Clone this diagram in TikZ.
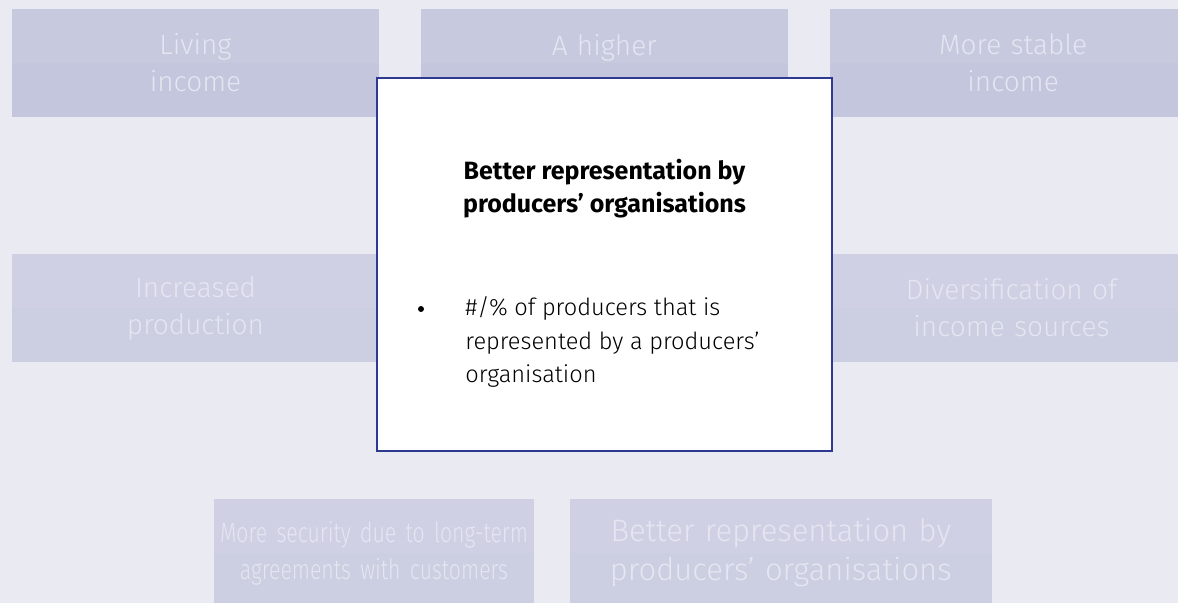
\documentclass[tikz,border=0pt]{standalone}
\usepackage{fontspec}
\setmainfont{Fira Sans}
\newfontfamily\thinfont{Fira Sans Light}
\newfontfamily\narrowthin{Fira Sans Light}[FakeStretch=0.76]
\usetikzlibrary{positioning}
\definecolor{canvas}{HTML}{EAEAF3}
\definecolor{tileup}{HTML}{C7C9DE}
\definecolor{tilelow}{HTML}{C3C6DC}
\definecolor{paleup}{HTML}{CFD0E3}
\definecolor{palelow}{HTML}{CCCEE1}
\definecolor{tiletext}{HTML}{E5E6F1}
\definecolor{frame}{HTML}{2E3A8F}
\tikzset{
  tile/.style={fill=tileup,text=tiletext,inner sep=0pt,align=center,
    text width=183.5pt,minimum height=54pt,
    font=\thinfont\fontsize{14}{18.5}\selectfont,
    path picture={\fill[tilelow] (path picture bounding box.west) rectangle (path picture bounding box.south east);}},
  paletile/.style={tile,fill=paleup,
    path picture={\fill[palelow] (path picture bounding box.west) rectangle (path picture bounding box.south east);}},
}
\begin{document}
\begin{tikzpicture}[x=0.5pt,y=-0.5pt]
\useasboundingbox (0,0) rectangle (1178,603);
\clip (0,0) rectangle (1178,603);
\fill[canvas] (0,0) rectangle (1178,603);
% top row
\node[tile] (living) at (195.5,63) {Living\\income};
\node[tile,right=20.5pt of living] (higher) {A higher\\\mbox{}};
\node[tile,right=20.5pt of higher] (stable) {More stable\\income};
% middle row
\node[paletile] (production) at (195.5,308) {Increased\\production};
\node[paletile] (diversify) at (1011.5,308) {Diversification of\\income sources};
% bottom row
\node[paletile,text width=160pt,font=\narrowthin\fontsize{14}{18.5}\selectfont] (security) at (374,553) {More security due to long-term\\agreements with customers};
\node[paletile,text width=211pt,font=\thinfont\fontsize{15.5}{19.5}\selectfont,right=17.5pt of security] (represent) {Better representation by\\producers’ organisations};
% focus card
\node[draw=frame,line width=0.6pt,fill=white,inner sep=0pt,minimum width=227.5pt,minimum height=186.5pt] (focus) at (604.5,264.5) {};
\node[anchor=base,align=center,font=\bfseries\fontsize{12.5}{16.5}\selectfont] (focustitle) at (604.5,213) {Better representation by\\producers’ organisations};
\node[circle,fill=black,inner sep=0pt,minimum size=3pt] (focusdot) at (421,309) {};
\node[anchor=base west,align=left,inner sep=0pt,font=\thinfont\fontsize{11.8}{16.75}\selectfont] (focusitem) at (465,383) {\#/\% of producers that is\\represented by a producers’\\organisation};
\end{tikzpicture}
\end{document}
